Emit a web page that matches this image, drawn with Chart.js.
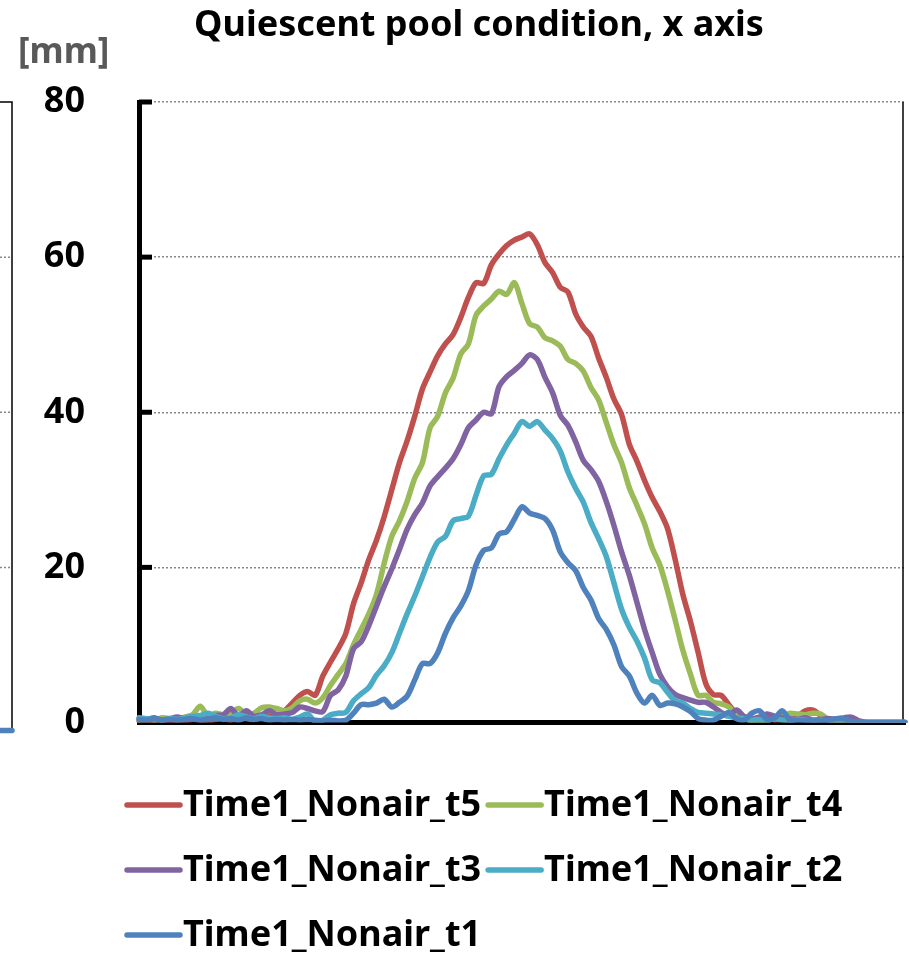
<!DOCTYPE html>
<html lang="en">

<head>
    <meta charset="UTF-8">
    <title>Quiescent pool condition, x axis</title>
    <script src="https://cdn.jsdelivr.net/npm/chart.js@4.4.1/dist/chart.umd.min.js"></script>
    <style>
        body {
            margin: 0;
            background: #fff;
            overflow: hidden;
        }

        .chart-container {
            width: 909px;
            height: 954px;
        }
    </style>
</head>

<body>
    <div class="chart-container">
        <canvas id="myChart"></canvas>
    </div>

    <script>
        const chartTitle = 'Quiescent pool condition, x axis';
        const unitLabel = '[mm]';
        const yTicks = [0, 20, 40, 60, 80];

        const seriesNames = ['Time1_Nonair_t1', 'Time1_Nonair_t2', 'Time1_Nonair_t3', 'Time1_Nonair_t4', 'Time1_Nonair_t5'];
        const seriesColors = ['#4F81BD', '#4BACC6', '#8064A2', '#9BBB59', '#C0504D'];

        const t5 = [0.2, 0.1, 0.3, 0.2, 0.1, 0.3, 0.2, 0.4, 0.3, 0.2, 0.4, 0.5, 0.3, 0.6, 0.5, 0.4, 0.7, 0.8,
            1.0, 1.5, 2.5, 3.5, 4.0, 3.5, 6.0, 7.8, 9.5, 11.5, 15.3, 18.0, 21.0, 23.5, 26.5, 30.0, 33.5, 36.3, 39.5, 43.0, 45.2, 47.3, 48.8,
            50.0, 52.2, 54.8, 56.7, 56.6, 59.0, 60.4, 61.5, 62.2, 62.6, 63.0, 61.6, 59.3, 58.0, 56.1, 55.5, 52.7, 51.0, 49.8, 47.0,
            44.5, 41.7, 39.7, 35.9, 33.7, 31.2, 29.0, 27.2, 25.0, 21.0, 16.5, 13.0, 9.0, 5.0, 3.6, 3.5, 2.3, 1.1,
            0.5, 0.3, 0.2, 0.6, 0.3, 0.4, 0.2, 0.8, 1.5, 1.6, 0.9, 0.3, 0.2, 0.1, 0, 0, 0, 0, 0, 0, 0, 0];

        const t4 = [0.3, 0.4, 0.3, 0.6, 0.5, 0.4, 0.7, 1.0, 2.1, 0.8, 1.2, 1.0, 1.3, 1.8, 1.0, 1.2, 1.9, 2.0,
            1.8, 1.5, 1.9, 2.8, 3.0, 2.5, 3.2, 4.8, 6.2, 7.6, 10.0, 12.0, 14.0, 16.5, 20.5, 24.0, 26.0, 28.5, 31.5, 33.5, 38.0, 39.5, 42.5,
            44.4, 47.5, 48.8, 52.5, 53.7, 54.6, 55.6, 55.2, 56.7, 54.0, 51.4, 51.0, 49.6, 49.2, 48.5, 46.8, 46.3, 45.3, 43.2, 41.6,
            38.7, 35.8, 33.5, 30.3, 28.0, 25.6, 22.5, 20.3, 17.0, 13.2, 9.3, 6.2, 3.5, 3.5, 2.6, 2.4, 2.0, 0.9,
            0.5, 0.2, 0, 0.3, 0.5, 0.8, 1.2, 1.1, 1.0, 1.2, 1.1, 0.4, 0.2, 0.1, 0, 0, 0, 0, 0, 0, 0, 0];

        const t3 = [0.5, 0.4, 0.6, 0.3, 0.5, 0.7, 0.5, 0.6, 0.8, 0.6, 0.9, 1.0, 1.8, 0.8, 1.5, 0.8, 1.0, 1.5,
            1.0, 1.1, 1.3, 2.0, 1.8, 1.5, 1.4, 3.5, 4.2, 6.0, 9.5, 10.4, 12.5, 15.0, 17.5, 19.8, 22.3, 24.9, 26.8, 28.3, 30.5, 31.7, 32.8,
            34.0, 35.8, 38.0, 39.0, 40.0, 39.8, 43.3, 44.6, 45.4, 46.3, 47.4, 46.8, 44.5, 42.5, 39.6, 38.3, 36.2, 33.8, 32.6, 31.1,
            28.5, 25.4, 22.0, 19.0, 15.5, 12.0, 9.0, 6.2, 4.6, 3.6, 3.2, 2.9, 2.6, 2.6, 2.0, 1.3, 0.9, 1.6,
            0.8, 0.5, 0.7, 1.1, 0.8, 0.6, 0.5, 0.4, 0.6, 0.3, 0.4, 0.5, 0.4, 0.6, 0.7, 0.2, 0, 0, 0, 0, 0, 0];

        const t2 = [0.6, 0.5, 0.4, 0.3, 0.5, 0.4, 0.6, 0.8, 0.9, 1.2, 0.8, 0.5, 0.6, 1.0, 0.7, 0.5, 0.8, 0.6,
            0.5, 0.6, 0.4, 0.7, 1.1, 0.1, 0.3, 1.0, 1.2, 1.3, 2.8, 3.7, 4.5, 6.1, 7.3, 9.0, 11.5, 14.0, 16.3, 18.8, 21.3, 23.3, 24.0,
            26.0, 26.3, 26.6, 29.3, 31.8, 32.0, 34.0, 35.8, 37.3, 38.8, 38.2, 38.8, 37.7, 36.6, 35.0, 32.3, 30.2, 28.4, 25.8, 23.7,
            21.4, 18.0, 14.6, 12.3, 10.5, 8.3, 5.5, 5.1, 3.9, 2.8, 2.5, 1.8, 1.3, 1.2, 1.1, 1.0, 0.8, 0.6,
            0.5, 0.3, 0.4, 0.2, 0.5, 0.3, 0.2, 0.4, 0.3, 0.2, 0.3, 0.1, 0.2, 0.1, 0, 0, 0, 0, 0, 0, 0, 0];

        const t1 = [0.4, 0.3, 0.5, 0.3, 0.4, 0.3, 0.4, 0.5, 0.3, 0.4, 0.6, 0.4, 0.5, 0.3, 0.6, 0.4, 0.5, 0.3,
            0.4, 0.3, 0.4, 0.3, 0.4, 0.3, 0.2, 0.3, 0.2, 0.3, 1.2, 2.3, 2.3, 2.5, 3.0, 2.0, 2.6, 3.4, 5.5, 7.6, 7.6, 9.0, 11.5,
            13.5, 15.0, 17.0, 20.3, 22.2, 22.5, 24.3, 24.6, 26.2, 27.8, 27.0, 26.7, 26.3, 24.8, 22.0, 20.6, 19.6, 17.4, 15.8, 13.4,
            12.0, 10.0, 7.2, 6.0, 3.8, 2.5, 3.5, 2.2, 2.5, 2.4, 2.0, 1.4, 0.5, 0.3, 0.3, 0.8, 1.3, 0.5,
            0.3, 1.2, 1.5, 0.4, 0.6, 1.5, 0.3, 0.3, 0.2, 0.3, 0.2, 0.3, 0.5, 0.5, 0.1, 0, 0, 0, 0, 0, 0, 0];

        const seriesValues = [t1, t2, t3, t4, t5];
        const positions = t1.map((_, i) => i);

        const FONT = 'Noto Sans';

        // t1 first so it is painted on top, legend is reversed back to t5..t1
        const data = {
            labels: positions,
            datasets: seriesNames.map((name, i) => ({
                label: name,
                data: seriesValues[i],
                borderColor: seriesColors[i],
                backgroundColor: seriesColors[i],
                borderWidth: 5.5,
                pointRadius: 0,
                tension: 0.3,
                borderJoinStyle: 'round',
                borderCapStyle: 'round'
            }))
        };

        const decor = {
            id: 'decor',
            afterLayout(chart) {
                // legend rows start a bit left of the plot, not at the canvas padding
                chart.legend.left = chart.chartArea.left - 19;
            },
            beforeDatasetsDraw(chart) {
                const { ctx, chartArea: a, scales: { y } } = chart;
                ctx.save();
                ctx.strokeStyle = '#000';
                // tick marks pointing into the plot
                ctx.lineWidth = 5;
                yTicks.filter(v => v > 0).forEach(v => {
                    const py = y.getPixelForValue(v);
                    ctx.beginPath();
                    ctx.moveTo(a.left, py);
                    ctx.lineTo(a.left + 13, py);
                    ctx.stroke();
                });
                // right frame line
                ctx.lineWidth = 1.5;
                ctx.beginPath();
                ctx.moveTo(a.right - 2, a.top);
                ctx.lineTo(a.right - 2, a.bottom);
                ctx.stroke();
                ctx.restore();
            },
            afterDraw(chart) {
                const { ctx, chartArea: a, scales: { y } } = chart;
                ctx.save();

                ctx.fillStyle = '#000';
                ctx.font = `bold 36px "${FONT}"`;
                ctx.textAlign = 'center';
                ctx.textBaseline = 'alphabetic';
                ctx.fillText(chartTitle, 479, 36);

                ctx.fillStyle = '#595959';
                ctx.font = `bold 35px "${FONT}"`;
                ctx.textAlign = 'left';
                ctx.fillText(unitLabel, 18, 63);

                // edge of the neighbouring panel
                ctx.strokeStyle = '#000';
                ctx.lineWidth = 1.5;
                ctx.beginPath();
                ctx.moveTo(0, a.top);
                ctx.lineTo(12, a.top);
                ctx.lineTo(12, y.getPixelForValue(0) + 6);
                ctx.stroke();
                ctx.strokeStyle = '#888';
                ctx.setLineDash([2, 2]);
                yTicks.filter(v => v > 0 && v < 80).forEach(v => {
                    const py = y.getPixelForValue(v);
                    ctx.beginPath();
                    ctx.moveTo(0, py);
                    ctx.lineTo(10, py);
                    ctx.stroke();
                });
                ctx.setLineDash([]);
                ctx.strokeStyle = seriesColors[0];
                ctx.lineWidth = 5.5;
                ctx.lineCap = 'round';
                ctx.beginPath();
                ctx.moveTo(0, y.getPixelForValue(0) + 8);
                ctx.lineTo(12, y.getPixelForValue(0) + 8);
                ctx.stroke();

                // legend line samples
                const legend = chart.legend;
                legend.legendHitBoxes.forEach((box, i) => {
                    const item = legend.legendItems[i];
                    const cy = box.top + box.height / 2 - 1;
                    ctx.strokeStyle = item.strokeStyle;
                    ctx.beginPath();
                    ctx.moveTo(box.left + 2, cy);
                    ctx.lineTo(box.left + 55, cy);
                    ctx.stroke();
                });
                ctx.restore();
            }
        };

        const config = {
            type: 'line',
            data,
            options: {
                responsive: true,
                maintainAspectRatio: false,
                animation: false,
                layout: {
                    padding: { left: 30, right: 4, top: 102, bottom: -22 }
                },
                scales: {
                    x: {
                        grid: { display: false, drawTicks: false },
                        ticks: { display: false },
                        border: { color: '#000', width: 5 },
                        afterFit: s => { s.height = 48.5; }
                    },
                    y: {
                        min: 0,
                        max: 80,
                        afterBuildTicks: s => { s.ticks = yTicks.map(v => ({ value: v })); },
                        grid: { color: '#888', lineWidth: 1.5, drawTicks: false },
                        border: { color: '#000', width: 5, dash: [2, 2] },
                        ticks: {
                            color: '#000',
                            padding: 54,
                            font: { family: FONT, size: 36, weight: 'bold' }
                        },
                        afterFit: s => { s.width = 109; }
                    }
                },
                plugins: {
                    title: { display: false },
                    tooltip: { enabled: false },
                    legend: {
                        position: 'bottom',
                        align: 'start',
                        labels: {
                            color: '#000',
                            font: { family: FONT, size: 36, weight: 'bold' },
                            boxWidth: 40,
                            boxHeight: 60,
                            padding: 5,
                            sort: (a, b) => b.datasetIndex - a.datasetIndex,
                            generateLabels: chart => Chart.defaults.plugins.legend.labels.generateLabels(chart)
                                .map(item => ({ ...item, fillStyle: 'rgba(0,0,0,0)', lineWidth: 0 }))
                        }
                    }
                }
            },
            plugins: [decor]
        };

        const ctx = document.getElementById('myChart').getContext('2d');
        const myChart = new Chart(ctx, config);
    </script>

</body>

</html>
